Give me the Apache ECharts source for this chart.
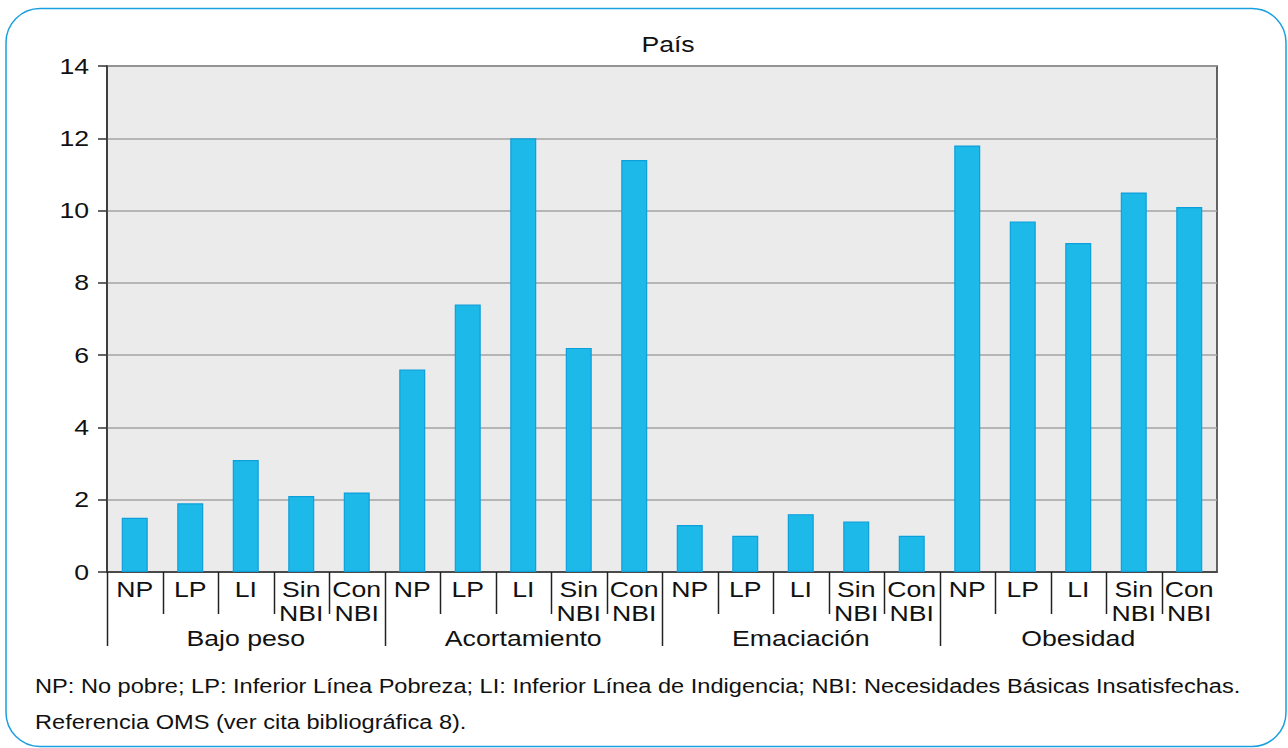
<!DOCTYPE html>
<html>
<head>
<meta charset="utf-8">
<script src="https://cdn.jsdelivr.net/npm/echarts@6/dist/echarts.min.js"></script>
<style>
  html, body { margin: 0; padding: 0; background: #fff; }
  #chart { width: 1288px; height: 748px; }
</style>
</head>
<body>
<div id="chart"></div>
<script>
// Prevalencia por indicador nutricional y condición socioeconómica (País)
const groups = ['Bajo peso', 'Acortamiento', 'Emaciación', 'Obesidad'];
const subgroups = ['NP', 'LP', 'LI', 'Sin\nNBI', 'Con\nNBI'];
const bajoPeso = [1.5, 1.9, 3.1, 2.1, 2.2];
const acortamiento = [5.6, 7.4, 12.0, 6.2, 11.4];
const emaciacion = [1.3, 1.0, 1.6, 1.4, 1.0];
const obesidad = [11.8, 9.7, 9.1, 10.5, 10.1];
const yTicks = [0, 2, 4, 6, 8, 10, 12, 14];
const titleText = 'País';
const noteLines = [
  'NP: No pobre; LP: Inferior Línea Pobreza; LI: Inferior Línea de Indigencia; NBI: Necesidades Básicas Insatisfechas.',
  'Referencia OMS (ver cita bibliográfica 8).'
];

const seriesByGroup = [bajoPeso, acortamiento, emaciacion, obesidad];
const categories = [];
const values = [];
groups.forEach((g, gi) => {
  subgroups.forEach((s, si) => {
    categories.push(s);
    values.push(seriesByGroup[gi][si]);
  });
});

const FONT = '"Liberation Sans", Arial, sans-serif';
const TXT = '#111';
// the figure uses a wide-set sans: glyphs are drawn 21% wider than regular Arial
const TEXT_WIDEN = 1.21;

const chart = echarts.init(document.getElementById('chart'), null, { renderer: 'svg' });

const option = {
  animation: false,
  backgroundColor: '#fff',
  textStyle: { fontFamily: FONT, color: TXT },
  title: {
    text: titleText,
    left: 663,
    textAlign: 'center',
    top: 28,
    textStyle: { fontFamily: FONT, fontSize: 22, fontWeight: 'normal', color: TXT }
  },
  grid: {
    left: 107, right: 71, top: 66, bottom: 176,
    show: true,
    backgroundColor: '#ebebeb',
    borderColor: '#333',
    borderWidth: 1.5
  },
  xAxis: [
    {
      type: 'category',
      data: categories,
      position: 'bottom',
      boundaryGap: true,
      axisLine: { show: true, lineStyle: { color: '#333', width: 1.5 } },
      axisTick: { show: false },
      axisLabel: {
        interval: 0,
        margin: 5,
        fontFamily: FONT,
        fontSize: 22,
        lineHeight: 24,
        color: TXT
      },
      splitLine: { show: false }
    },
    {
      type: 'category',
      data: groups,
      position: 'bottom',
      boundaryGap: true,
      axisLine: { show: false },
      axisTick: { show: false },
      axisLabel: {
        interval: 0,
        margin: 55,
        fontFamily: FONT,
        fontSize: 22,
        color: TXT
      },
      splitLine: { show: false }
    }
  ],
  yAxis: {
    type: 'value',
    min: yTicks[0],
    max: yTicks[yTicks.length - 1],
    interval: yTicks[1] - yTicks[0],
    axisLine: { show: true, lineStyle: { color: '#333', width: 1.5 } },
    axisTick: { show: true, length: 9, lineStyle: { color: '#333', width: 1.5 } },
    axisLabel: { margin: 18, fontFamily: FONT, fontSize: 22, color: TXT },
    splitLine: { show: true, lineStyle: { color: '#a3a3a3', width: 1.5 } }
  },
  series: [
    {
      type: 'bar',
      xAxisIndex: 0,
      yAxisIndex: 0,
      data: values,
      barWidth: 26,
      itemStyle: {
        color: '#1dbae9',
        borderColor: '#0d9fdc',
        borderWidth: 1.2
      }
    }
  ]
};

chart.setOption(option);

// Separators under the category axis: short lines between subgroups,
// long lines at the start of each group.
const zeroY = chart.convertToPixel({ yAxisIndex: 0 }, 0);
const c0 = chart.convertToPixel({ xAxisIndex: 0 }, 0);
const c1 = chart.convertToPixel({ xAxisIndex: 0 }, 1);
const band = c1 - c0;
const elements = [];
for (let i = 0; i < categories.length; i++) {
  const x = Math.round(chart.convertToPixel({ xAxisIndex: 0 }, i) - band / 2) + 0.5;
  const isGroupStart = i % subgroups.length === 0;
  elements.push({
    type: 'line',
    shape: { x1: x, y1: zeroY, x2: x, y2: zeroY + (isGroupStart ? 74 : 42) },
    style: { stroke: '#222', lineWidth: 1.5 },
    z: 10
  });
}

// Rounded frame around the figure
elements.push({
  type: 'rect',
  shape: { x: 6, y: 8.5, width: 1280, height: 738, r: 34 },
  style: { fill: null, stroke: '#1a9fe0', lineWidth: 1.5 },
  z: 0
});

// Footnotes
noteLines.forEach((t, i) => {
  elements.push({
    type: 'text',
    x: 35,
    y: 686 + i * 36,
    style: {
      text: t,
      fontFamily: FONT,
      fontSize: 19.5,
      fill: TXT,
      verticalAlign: 'middle'
    },
    z: 10
  });
});

chart.setOption({ graphic: { elements } });

// Widen every text run of the SVG output to the figure's wide-set lettering.
function widenText() {
  document.querySelectorAll('#chart svg text').forEach(t => {
    if (t.dataset.widened) return;
    const len = t.getComputedTextLength();
    if (!len) return;
    t.setAttribute('textLength', (len * TEXT_WIDEN).toFixed(2));
    t.setAttribute('lengthAdjust', 'spacingAndGlyphs');
    t.dataset.widened = '1';
  });
}
widenText();
chart.on('finished', widenText);
requestAnimationFrame(widenText);
</script>
</body>
</html>
